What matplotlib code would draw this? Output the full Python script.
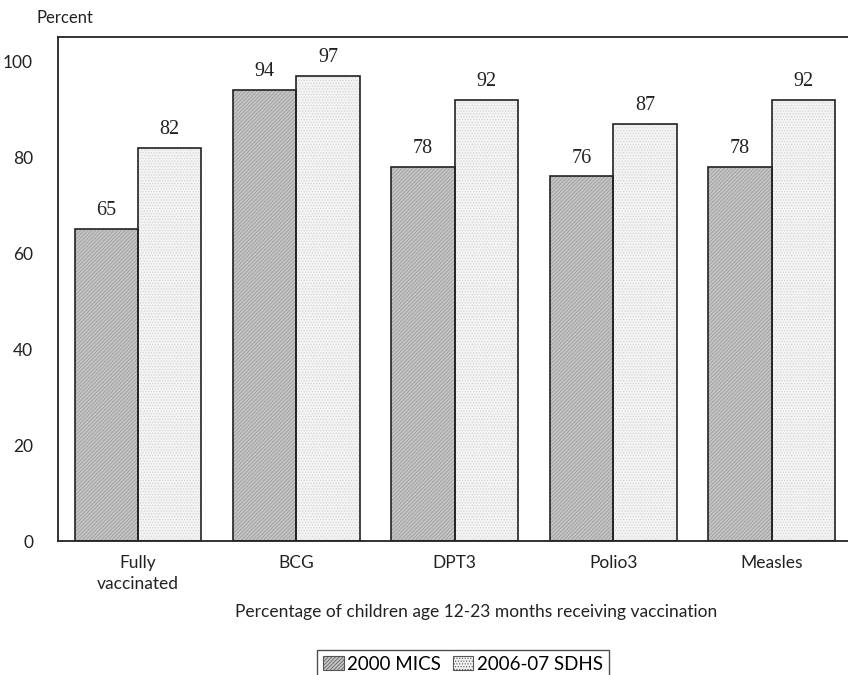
import numpy as np
import matplotlib.pyplot as plt

categories = ["Fully\nvaccinated", "BCG", "DPT3", "Polio3", "Measles"]
mics_2000 = [65, 94, 78, 76, 78]
sdhs_2006 = [82, 97, 92, 87, 92]
series_names = ["2000 MICS", "2006-07 SDHS"]
y_ticks = [0, 20, 40, 60, 80, 100]

sans = "Lato"
serif = "Liberation Serif"
plt.rcParams["hatch.linewidth"] = 0.5

fig = plt.figure(figsize=(8.48, 6.75), dpi=100)
ax = fig.add_axes([0.0684, 0.1985, 0.946, 0.7465])

x = np.arange(len(categories))
w = 0.4

# hatched fill first, then a plain outline on top so the hatch stays light
b1 = ax.bar(x - w / 2, mics_2000, w, facecolor="#c4c4c4", edgecolor="#999999",
            hatch="/////////", linewidth=0)
b2 = ax.bar(x + w / 2, sdhs_2006, w, facecolor="#f3f3f3", edgecolor="#d4d4d4",
            hatch="......", linewidth=0)
ax.bar(x - w / 2, mics_2000, w, fill=False, edgecolor="#222222", linewidth=1.2)
ax.bar(x + w / 2, sdhs_2006, w, fill=False, edgecolor="#222222", linewidth=1.2)

for xs, vals in ((x - w / 2, mics_2000), (x + w / 2, sdhs_2006)):
    for xi, v in zip(xs, vals):
        ax.text(xi, v + 1.8, str(v), ha="center", va="bottom",
                fontsize=14.5, family=serif, color="#222222")

ax.set_xlim(-0.506, len(categories) - 0.44)
ax.set_ylim(0, 105)
ax.set_yticks(y_ticks)
ax.set_yticklabels([str(t) for t in y_ticks], family=sans, fontsize=12.5)
ax.set_xticks(x)
ax.set_xticklabels(categories, family=sans, fontsize=12.5, linespacing=1.4)
ax.tick_params(length=0, pad=10, colors="#222222")
ax.tick_params(axis="y", pad=18)

for side in ("left", "top", "bottom"):
    ax.spines[side].set_linewidth(1.3)
    ax.spines[side].set_color("#222222")
ax.spines["right"].set_visible(False)

ax.set_xlabel("Percentage of children age 12-23 months receiving vaccination",
              family=sans, fontsize=12.5, color="#222222")
ax.xaxis.set_label_coords(0.521, -0.125)
fig.text(0.043, 0.973, "Percent", family=sans, fontsize=12, color="#222222",
         va="center")

leg = fig.legend([b1, b2], series_names, loc="upper center",
                 bbox_to_anchor=(0.546, 0.037), ncol=2,
                 prop={"family": sans, "size": 13.5}, frameon=True,
                 fancybox=False, handlelength=1.1, handleheight=0.8,
                 handletextpad=0.2, columnspacing=0.6, borderpad=0.3,
                 borderaxespad=0)
leg.get_frame().set_edgecolor("#222222")
leg.get_frame().set_linewidth(1.0)
for h in leg.legend_handles:
    h.set_edgecolor("#555555")
    h.set_linewidth(0.8)

fig.savefig("out.png", dpi=100)
